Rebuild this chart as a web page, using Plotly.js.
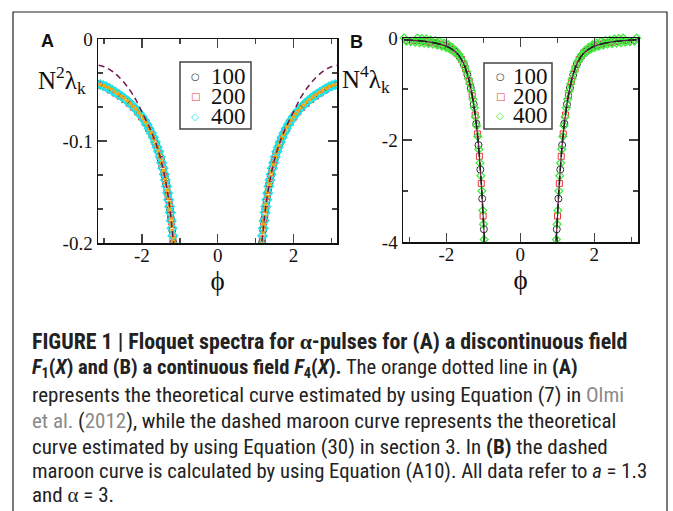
<!DOCTYPE html>
<html><head><meta charset="utf-8">
<script src="https://cdn.plot.ly/plotly-3.0.1.min.js"></script>
<style>html,body{margin:0;padding:0;background:#fff}#c{width:673px;height:511px}</style>
</head><body><div id="c"></div>
<script>
// ---------- Panel A data (positive phi side; spectrum is symmetric in phi) ----------
const phiA100 = [1.17,1.20,1.23,1.26,1.29,1.32,1.36,1.40,1.45,1.50,1.56,1.63,1.70,1.78,1.87,1.96,2.06,2.17,2.28,2.40,2.52,2.64,2.77,2.90,3.02,3.14];
const valA100 = [-0.1998,-0.1874,-0.1766,-0.1671,-0.1587,-0.1511,-0.1422,-0.1344,-0.1259,-0.1184,-0.1107,-0.1030,-0.0964,-0.0900,-0.0837,-0.0783,-0.0732,-0.0683,-0.0641,-0.0602,-0.0567,-0.0536,-0.0505,-0.0475,-0.0455,-0.0443];
const phiA200 = [1.18,1.215,1.245,1.275,1.31,1.34,1.38,1.425,1.475,1.53,1.595,1.665,1.74,1.825,1.915,2.01,2.115,2.225,2.34,2.46,2.58,2.705,2.835,2.96,3.08];
const valA200 = [-0.1962,-0.1795,-0.1725,-0.1635,-0.1545,-0.1475,-0.1390,-0.1308,-0.1228,-0.1148,-0.1075,-0.1005,-0.0940,-0.0878,-0.0818,-0.0765,-0.0715,-0.0670,-0.0630,-0.0594,-0.0560,-0.0530,-0.0500,-0.0472,-0.0455];
const phiA400 = [1.165,1.185,1.205,1.225,1.25,1.27,1.295,1.32,1.35,1.38,1.41,1.445,1.48,1.52,1.56,1.60,1.65,1.70,1.75,1.81,1.87,1.93,2.00,2.07,2.14,2.22,2.30,2.38,2.46,2.54,2.62,2.70,2.78,2.86,2.94,3.02,3.10];
const valA400 = [-0.2020,-0.1930,-0.1855,-0.1782,-0.1702,-0.1642,-0.1575,-0.1511,-0.1443,-0.1382,-0.1326,-0.1267,-0.1213,-0.1155,-0.1104,-0.1061,-0.1011,-0.0964,-0.0922,-0.0877,-0.0837,-0.0800,-0.0761,-0.0727,-0.0696,-0.0663,-0.0634,-0.0608,-0.0583,-0.0561,-0.0541,-0.0522,-0.0505,-0.0486,-0.0470,-0.0457,-0.0447];
// orange dotted theory (Olmi et al. 2012, Eq. 7)
const phiAorange = [1.14,1.17,1.20,1.25,1.30,1.35,1.40,1.50,1.60,1.70,1.80,1.90,2.00,2.10,2.20,2.30,2.40,2.50,2.60,2.70,2.80,2.90,3.00,3.10,3.1416];
const valAorange = [-0.2141,-0.1998,-0.1874,-0.1701,-0.1561,-0.1443,-0.1344,-0.1184,-0.1061,-0.0964,-0.0884,-0.0818,-0.0761,-0.0713,-0.0671,-0.0634,-0.0602,-0.0572,-0.0546,-0.0520,-0.0496,-0.0475,-0.0458,-0.0446,-0.0443];
// dashed maroon theory (Eq. 30)
const phiAdash = [1.14,1.20,1.25,1.30,1.40,1.50,1.60,1.70,1.80,1.90,2.00,2.10,2.20,2.40,2.60,2.80,3.00,3.1416];
const valAdash = [-0.2085,-0.1874,-0.1702,-0.1561,-0.1344,-0.1184,-0.1058,-0.0955,-0.0868,-0.0790,-0.0715,-0.0640,-0.0570,-0.0460,-0.0375,-0.0312,-0.0272,-0.0258];

// ---------- Panel B data ----------
const phiB100 = [0.985,1.03,1.08,1.13,1.19,1.26,1.34,1.43,1.53,1.65,1.78,1.92,2.08,2.25,2.45,2.65,2.87,3.08];
const valB100 = [-3.75,-3.15,-2.58,-2.10,-1.68,-1.30,-0.98,-0.72,-0.51,-0.36,-0.26,-0.19,-0.14,-0.107,-0.08,-0.062,-0.047,-0.038];
const phiB200 = [1.005,1.055,1.105,1.16,1.22,1.30,1.38,1.48,1.59,1.71,1.85,2.00,2.16,2.35,2.55,2.76,2.97];
const valB200 = [-3.49,-2.85,-2.32,-1.88,-1.51,-1.13,-0.85,-0.60,-0.42,-0.30,-0.22,-0.16,-0.12,-0.092,-0.07,-0.053,-0.041];
const phiB400 = [0.975,0.995,1.015,1.04,1.065,1.09,1.12,1.15,1.18,1.21,1.245,1.28,1.32,1.36,1.40,1.45,1.50,1.55,1.60,1.65,1.70,1.75,1.80,1.85,1.90,1.95,2.00,2.06,2.12,2.18,2.24,2.30,2.36,2.42,2.48,2.54,2.60,2.66,2.72,2.78,2.84,2.90,2.96,3.02,3.08,3.14];
const valB400 = [-3.95,-3.65,-3.38,-3.00,-2.70,-2.45,-2.18,-1.93,-1.72,-1.55,-1.37,-1.20,-1.04,-0.90,-0.80,-0.66,-0.57,-0.46,-0.42,-0.33,-0.32,-0.24,-0.27,-0.18,-0.22,-0.13,-0.19,-0.10,-0.16,-0.07,-0.14,-0.05,-0.12,-0.04,-0.11,-0.02,-0.10,-0.01,-0.09,0.0,-0.08,0.01,-0.07,0.01,-0.06,0.0];
const phiBdash = [0.94,0.97,1.00,1.04,1.08,1.14,1.20,1.26,1.33,1.40,1.50,1.60,1.70,1.80,1.90,2.00,2.20,2.40,2.60,2.80,3.00,3.1416];
const valBdash = [-4.25,-3.95,-3.55,-3.02,-2.58,-2.02,-1.62,-1.30,-1.01,-0.79,-0.56,-0.41,-0.31,-0.245,-0.195,-0.16,-0.115,-0.085,-0.065,-0.05,-0.04,-0.036];

// ---------- ticks & labels ----------
const xTickVals = [-2, 0, 2];
const xTickText = ['-2', '0', '2'];
const yTickValsA = [0, -0.1, -0.2];
const yTickTextA = ['0', '-0.1', '-0.2'];
const yTickValsB = [0, -2, -4];
const yTickTextB = ['0', '-2', '-4'];
const legendLabels = ['100', '200', '400'];

// mirror the positive-phi half onto negative phi (with a gap at phi = 0)
function sym(phi, val) {
  const xs = [], ys = [];
  for (let i = phi.length - 1; i >= 0; i--) { xs.push(-phi[i]); ys.push(val[i]); }
  xs.push(null); ys.push(null);
  for (let i = 0; i < phi.length; i++) { xs.push(phi[i]); ys.push(val[i]); }
  return {x: xs, y: ys};
}

const W = 673, H = 511;
const px = v => v / W, py = v => 1 - v / H;

const BLACK = '#333333', RED = '#e8383d', CYAN = '#19e6ee', GREEN = '#3cec3c', MAROON = '#6e1a4e', ORANGE = '#ffa500';

function markers(d, xa, ya, sym_, color, size, lw, clip) {
  return {x: d.x, y: d.y, xaxis: xa, yaxis: ya, type: 'scatter', mode: 'markers', showlegend: false,
    cliponaxis: clip, marker: {symbol: sym_, size: size, color: color, line: {color: color, width: lw}}, hoverinfo: 'skip'};
}

const traces = [
  markers(sym(phiA100, valA100), 'x', 'y', 'circle-open', BLACK, 7, 1, true),
  markers(sym(phiA200, valA200), 'x', 'y', 'square-open', RED, 6, 1, true),
  markers(sym(phiA400, valA400), 'x', 'y', 'diamond-open', CYAN, 7, 1.6, true),
  Object.assign(sym(phiAorange, valAorange), {xaxis: 'x', yaxis: 'y', mode: 'lines', showlegend: false,
    line: {color: ORANGE, width: 3.5, dash: '3px,1px', shape: 'spline'}}),
  Object.assign(sym(phiAdash, valAdash), {xaxis: 'x', yaxis: 'y', mode: 'lines', showlegend: false,
    line: {color: MAROON, width: 1.5, dash: '6px,4px', shape: 'spline'}}),

  markers(sym(phiB100, valB100), 'x2', 'y2', 'circle-open', BLACK, 7, 1, true),
  markers(sym(phiB200, valB200), 'x2', 'y2', 'square-open', RED, 6, 1, true),
  markers(sym(phiB400, valB400), 'x2', 'y2', 'diamond-open', GREEN, 6, 1.3, false),
  Object.assign(sym(phiBdash, valBdash), {xaxis: 'x2', yaxis: 'y2', mode: 'lines', showlegend: false,
    line: {color: MAROON, width: 1.2, shape: 'spline'}}),
  Object.assign(sym(phiBdash, valBdash), {xaxis: 'x2', yaxis: 'y2', mode: 'lines', showlegend: false,
    line: {color: '#222', width: 1.6, dash: '9px,5px', shape: 'spline'}})
];

const serif = 'Liberation Serif, Times New Roman, serif';
function xax(domain) {
  return {domain: domain, range: [-3.16, 3.15], tickvals: xTickVals, ticktext: xTickText,
    ticks: 'inside', ticklen: 9, tickwidth: 1.5, tickcolor: '#444', mirror: 'ticks', showline: true,
    linecolor: '#111', linewidth: 1.5, showgrid: false, zeroline: false,
    tickfont: {family: serif, size: 19, color: '#111'}, ticklabelstandoff: -5,
    minor: {dtick: 1, tick0: 0, ticks: 'inside', ticklen: 5, tickwidth: 1.5, tickcolor: '#444', showgrid: false},
    title: {text: 'ϕ', font: {family: serif, size: 27, color: '#111'}, standoff: 3}};
}
function yax(domain, range, vals, text, mdt) {
  return {domain: domain, range: range, tickvals: vals, ticktext: text,
    ticks: 'inside', ticklen: 9, tickwidth: 1.5, tickcolor: '#444', mirror: 'ticks', showline: true,
    linecolor: '#111', linewidth: 1.5, showgrid: false, zeroline: false,
    tickfont: {family: serif, size: 19, color: '#111'},
    minor: {dtick: mdt, tick0: 0, ticks: 'inside', ticklen: 5, tickwidth: 1.5, tickcolor: '#444', showgrid: false}};
}

const shapes = [
  {type: 'rect', xref: 'paper', yref: 'paper', x0: px(13), x1: px(667), y0: -0.05, y1: py(12), line: {color: '#222', width: 1.2}},
  {type: 'rect', xref: 'paper', yref: 'paper', x0: px(180), x1: px(251), y0: py(129), y1: py(62), line: {color: '#444', width: 1.5}, fillcolor: '#fff', layer: 'above'},
  {type: 'rect', xref: 'paper', yref: 'paper', x0: px(484), x1: px(552), y0: py(129), y1: py(63), line: {color: '#444', width: 1.5}, fillcolor: '#fff', layer: 'above'}
];

const ann = [];
function A(x, y, text, opts) {
  ann.push(Object.assign({xref: 'paper', yref: 'paper', x: px(x), y: py(y), text: text, showarrow: false,
    xanchor: 'left', yanchor: 'middle', font: {family: 'Liberation Sans, Arial, sans-serif', size: 17, color: '#111'}}, opts || {}));
}
// panel letters
A(47.5, 41, '<b>A</b>', {xanchor: 'center', font: {family: 'Liberation Sans, Arial', size: 18, color: '#111'}});
A(356, 42, '<b>B</b>', {xanchor: 'center', font: {family: 'Liberation Sans, Arial', size: 18, color: '#111'}});
// y labels
A(36, 80, 'N<sup>2</sup>λ<sub>k</sub>', {font: {family: serif, size: 25, color: '#111'}});
A(340, 79, 'N<sup>4</sup>λ<sub>k</sub>', {font: {family: serif, size: 25, color: '#111'}});
// legends
const legA = [[BLACK, '○', 76], [RED, '□', 97], [CYAN, '◇', 116]];
const legB = [[BLACK, '○', 77], [RED, '□', 97], [GREEN, '◇', 115]];
legA.forEach((r, i) => {
  A(195, r[2], r[1], {xanchor: 'center', font: {family: 'DejaVu Sans', size: 10, color: r[0]}});
  A(248, r[2], legendLabels[i], {xanchor: 'right', font: {family: serif, size: 23, color: '#111'}});
});
legB.forEach((r, i) => {
  A(500, r[2], r[1], {xanchor: 'center', font: {family: 'DejaVu Sans', size: 10, color: r[0]}});
  A(550, r[2], legendLabels[i], {xanchor: 'right', font: {family: serif, size: 23, color: '#111'}});
});
// caption
const capFam = 'Liberation Sans Narrow, Arial Narrow, Roboto Condensed, Liberation Sans, sans-serif';
const G = "<span style='color:#8a8a8a'>";
const AL = "<span style='font-family:Liberation Serif'>α</span>";
const capLines = [
  '<b>FIGURE 1 | Floquet spectra for ' + AL + '-pulses for (A) a discontinuous field</b>',
  '<b><i>F</i><sub>1</sub>(<i>X</i>) and (B) a continuous field <i>F</i><sub>4</sub>(<i>X</i>).</b> The orange dotted line in <b>(A)</b>',
  'represents the theoretical curve estimated by using Equation (7) in ' + G + 'Olmi</span>',
  G + 'et al.</span> (' + G + '2012</span>), while the dashed maroon curve represents the theoretical',
  'curve estimated by using Equation (30) in section 3. In <b>(B)</b> the dashed',
  'maroon curve is calculated by using Equation (A10). All data refer to <i>a</i> = 1.3',
  'and ' + AL + ' = 3.'
];
const capY = [341, 368, 395, 421, 447, 471, 495];
const capSize = [21.9, 20.6, 21.0, 21.0, 21.0, 20.7, 21.0];
capLines.forEach((t, i) => A(30, capY[i], t, {font: {family: capFam, size: capSize[i], color: '#222'}}));

const layout = {
  width: W, height: H, margin: {l: 0, r: 0, t: 0, b: 0}, paper_bgcolor: '#fff', plot_bgcolor: '#fff',
  showlegend: false,
  xaxis: xax([px(98), px(337)]),
  yaxis: yax([py(243), py(39)], [-0.2, 0], yTickValsA, yTickTextA, 0.1 / 3),
  xaxis2: Object.assign(xax([px(403), px(638)]), {anchor: 'y2', range: [-3.17, 3.18]}),
  yaxis2: Object.assign(yax([py(242), py(38)], [-4, 0], yTickValsB, yTickTextB, 1), {anchor: 'x2'}),
  shapes: shapes, annotations: ann
};
layout.xaxis.anchor = 'y';
layout.yaxis.anchor = 'x';
Plotly.newPlot('c', traces, layout, {staticPlot: true});
</script></body></html>
